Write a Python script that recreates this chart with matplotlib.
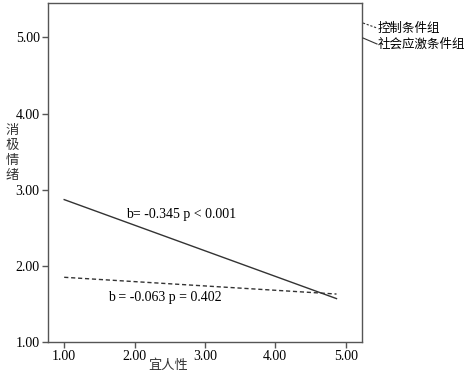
import numpy as np
import matplotlib.pyplot as plt

plt.rcParams['font.family'] = ['Liberation Serif', 'Noto Sans CJK SC']

# fitted lines
x_ctrl = [1.00, 4.87]
y_ctrl = [1.85, 1.63]
x_stress = [1.00, 4.87]
y_stress = [2.87, 1.57]

xticks = [1, 2, 3, 4, 5]
yticks = [1, 2, 3, 4, 5]
labels = ["控制条件组", "社会应激条件组"]
notes = ["b= -0.345 p < 0.001", "b = -0.063 p = 0.402"]

fig = plt.figure(figsize=(4.67, 3.72), dpi=100)
ax = fig.add_axes([0.1028, 0.0806, 0.672, 0.911])

ax.plot(x_ctrl, y_ctrl, color='#333333', lw=1, ls=(0, (3, 2)))
ax.plot(x_stress, y_stress, color='#333333', lw=1)

ax.set_xlim(0.77, 5.23)
ax.set_ylim(1.0, 5.45)
ax.set_xticks(xticks)
ax.set_yticks(yticks)
ax.set_xticklabels([f"{v:.2f}" for v in xticks])
ax.set_yticklabels([f"{v:.2f}" for v in yticks])
ax.tick_params(direction='out', length=4, width=1, color='#555555', labelsize=10, pad=2)
for s in ax.spines.values():
    s.set_color('#555555')
    s.set_linewidth(1)

ax.text(1.88, 2.68, notes[0], fontsize=10, ha='left', va='center')
ax.text(1.62, 1.59, notes[1], fontsize=10, ha='left', va='center')

fig.text(168 / 467, 1 - 365 / 372, "宜人性", family='Noto Sans CJK SC', fontsize=9.5, ha='center', va='center', color='#333333')
fig.text(12 / 467, 1 - 153 / 372, "消\n极\n情\n绪", family='Noto Sans CJK SC', fontsize=9.5, ha='center', va='center', linespacing=1.2, color='#333333')

# leader lines to the series labels outside the axes
fig.add_artist(plt.Line2D([363 / 467, 377 / 467], [1 - 23 / 372, 1 - 28 / 372], color='#333333', lw=0.8, ls=(0, (2, 1.5))))
fig.add_artist(plt.Line2D([363 / 467, 377 / 467], [1 - 38 / 372, 1 - 44 / 372], color='#333333', lw=0.8))
fig.text(378 / 467, 1 - 28 / 372, labels[0], family='Noto Sans CJK SC', fontsize=9, ha='left', va='center')
fig.text(378 / 467, 1 - 44 / 372, labels[1], family='Noto Sans CJK SC', fontsize=9, ha='left', va='center')

fig.savefig('out.png', dpi=100)
